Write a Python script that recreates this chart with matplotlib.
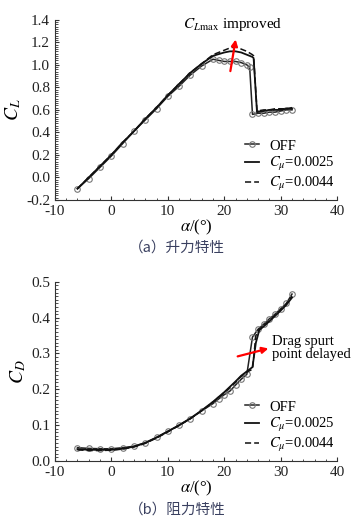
import matplotlib
matplotlib.use("Agg")
import matplotlib.pyplot as plt
from matplotlib.ticker import MultipleLocator

plt.rcParams['font.family'] = ['Liberation Serif', 'DejaVu Serif']
plt.rcParams['mathtext.fontset'] = 'stix'
plt.rcParams['axes.unicode_minus'] = False
plt.rcParams['font.size'] = 11

# ---- Lift data ----
alpha_cl_off = [-6, -4, -2, 0, 2, 4, 6, 8, 10, 12, 14, 16, 18, 19, 20, 21, 22, 23, 24, 24.5,
                25, 26, 27, 28, 29, 30, 31, 32]
cl_off = [-0.10, -0.01, 0.09, 0.19, 0.30, 0.41, 0.51, 0.61, 0.72, 0.81, 0.91, 0.99, 1.05, 1.04,
          1.03, 1.03, 1.03, 1.02, 1.00, 0.98, 0.56, 0.57, 0.57, 0.58, 0.58, 0.59, 0.60, 0.60]

alpha_cl_c = [-6, -4, -2, 0, 2, 4, 6, 8, 10, 12, 14, 16, 18, 20, 21, 22, 23, 24, 25, 25.2,
              25.8, 27, 28, 29, 30, 31, 32]
cl_0025 = [-0.10, 0.00, 0.10, 0.20, 0.31, 0.41, 0.52, 0.62, 0.73, 0.83, 0.93, 1.01, 1.08, 1.11,
           1.12, 1.12, 1.11, 1.09, 1.07, 1.06, 0.58, 0.59, 0.60, 0.60, 0.60, 0.61, 0.61]
cl_0044 = [-0.10, 0.00, 0.10, 0.20, 0.31, 0.41, 0.52, 0.62, 0.73, 0.83, 0.93, 1.01, 1.09, 1.13,
           1.15, 1.16, 1.14, 1.12, 1.09, 1.08, 0.59, 0.60, 0.60, 0.61, 0.61, 0.61, 0.62]

# ---- Drag data ----
alpha_cd_off = [-6, -4, -2, 0, 2, 4, 6, 8, 10, 12, 14, 16, 18, 19, 20, 21, 22, 23, 24, 25,
                26, 27, 28, 29, 30, 31, 32]
cd_off = [0.037, 0.035, 0.034, 0.034, 0.037, 0.041, 0.051, 0.066, 0.083, 0.099, 0.118, 0.140,
          0.160, 0.173, 0.185, 0.195, 0.212, 0.228, 0.242, 0.346, 0.368, 0.382, 0.397, 0.410,
          0.425, 0.440, 0.466]

alpha_cd_c = [-6, -4, -2, 0, 2, 4, 6, 8, 10, 12, 14, 16, 18, 20, 22, 23, 24, 25, 25.6,
              26.2, 27, 28, 29, 30, 31, 32]
cd_0025 = [0.033, 0.031, 0.031, 0.031, 0.034, 0.040, 0.050, 0.065, 0.082, 0.100, 0.119, 0.141,
           0.165, 0.192, 0.222, 0.238, 0.250, 0.262, 0.330, 0.365, 0.376, 0.390, 0.405, 0.420,
           0.436, 0.456]
cd_0044 = [0.031, 0.029, 0.029, 0.030, 0.033, 0.039, 0.049, 0.064, 0.081, 0.099, 0.118, 0.140,
           0.164, 0.190, 0.220, 0.236, 0.248, 0.256, 0.350, 0.368, 0.378, 0.392, 0.407, 0.422,
           0.438, 0.460]

xticks = [-10, 0, 10, 20, 30, 40]
labels = ['OFF', r'$C_\mu$=0.0025', r'$C_\mu$=0.0044']
captions = ['（a）升力特性', '（b）阻力特性']

fig = plt.figure(figsize=(3.61, 5.22), dpi=100)
ax1 = fig.add_axes([0.152, 0.617, 0.782, 0.345])
ax2 = fig.add_axes([0.152, 0.117, 0.782, 0.343])

off_kw = dict(color='#222222', lw=1.1, marker='o', ms=4, mfc='none', mec='#777777', mew=0.8)

def style(ax):
    for s in ['top', 'right']:
        ax.spines[s].set_visible(False)
    ax.spines['left'].set_color('#333333')
    ax.spines['bottom'].set_color('#333333')
    ax.tick_params(which='both', direction='in', colors='#333333', labelcolor='#222222',
                   labelsize=11)
    ax.tick_params(which='major', length=3)
    ax.tick_params(which='minor', length=1.8)
    ax.set_xlim(-10, 40)
    ax.set_xticks(xticks)
    ax.xaxis.set_minor_locator(MultipleLocator(2))
    ax.set_xlabel(r'$\alpha$/(°)', fontsize=12, labelpad=0)

def add_legend(ax):
    ax.legend(loc='lower right', bbox_to_anchor=(1.025, -0.01), frameon=False, fontsize=10.5,
              handlelength=1.0, handletextpad=0.7, labelspacing=0.15, borderaxespad=0.2)

# Lift
ax1.plot(alpha_cl_off, cl_off, label=labels[0], **off_kw)
ax1.plot(alpha_cl_c, cl_0025, color='#111111', lw=1.3, label=labels[1])
ax1.plot(alpha_cl_c, cl_0044, color='#111111', lw=1.1, ls=(0, (4, 2)), label=labels[2])
style(ax1)
ax1.set_ylim(-0.2, 1.4)
ax1.yaxis.set_major_locator(MultipleLocator(0.2))
ax1.yaxis.set_minor_locator(MultipleLocator(0.02))
ax1.set_yticklabels([f'{v:.1f}' for v in ax1.get_yticks()])
ax1.set_ylabel(r'$C_L$', fontsize=14, labelpad=2)
add_legend(ax1)
ax1.annotate('', xy=(22.1, 1.25), xytext=(21.0, 0.92),
             arrowprops=dict(arrowstyle='-|>', color='red', lw=1.6, mutation_scale=9))
ax1.text(21.5, 1.355, r'$C_{L\mathrm{max}}$ improved', ha='center', va='center', fontsize=11)

# Drag
ax2.plot(alpha_cd_off, cd_off, label=labels[0], **off_kw)
ax2.plot(alpha_cd_c, cd_0025, color='#111111', lw=1.3, label=labels[1])
ax2.plot(alpha_cd_c, cd_0044, color='#111111', lw=1.1, ls=(0, (4, 2)), label=labels[2])
style(ax2)
ax2.set_ylim(0, 0.5)
ax2.yaxis.set_major_locator(MultipleLocator(0.1))
ax2.yaxis.set_minor_locator(MultipleLocator(0.01))
ax2.set_yticklabels([f'{v:.1f}' for v in ax2.get_yticks()])
ax2.set_ylabel(r'$C_D$', fontsize=14, labelpad=2)
add_legend(ax2)
ax2.annotate('', xy=(28.3, 0.316), xytext=(21.9, 0.290),
             arrowprops=dict(arrowstyle='-|>', color='red', lw=1.6, mutation_scale=9))
ax2.text(28.4, 0.316, 'Drag spurt\npoint delayed', ha='left', va='center', fontsize=10.5,
         linespacing=1.05)

fig.text(0.49, 1 - 248 / 522, captions[0], ha='center', va='center', fontsize=10.5,
         color='#3a4060', family=['Noto Sans CJK SC', 'DejaVu Sans'])
fig.text(0.49, 1 - 510 / 522, captions[1], ha='center', va='center', fontsize=10.5,
         color='#3a4060', family=['Noto Sans CJK SC', 'DejaVu Sans'])

fig.savefig('out.png', dpi=100)
